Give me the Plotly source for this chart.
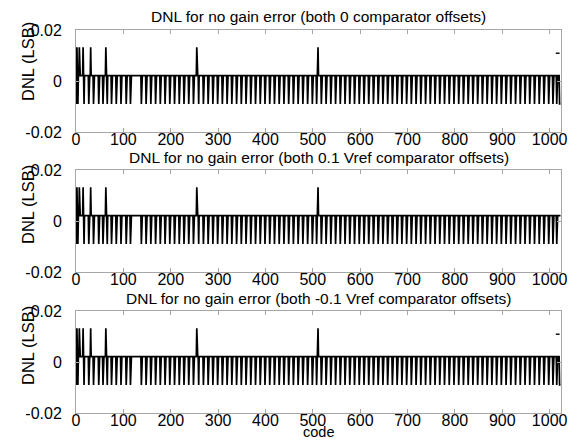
import numpy as np
import plotly.graph_objects as go
from plotly.subplots import make_subplots

titles = [
    "DNL for no gain error (both 0 comparator offsets)",
    "DNL for no gain error (both 0.1 Vref comparator offsets)",
    "DNL for no gain error (both -0.1 Vref comparator offsets)",
]

n_codes = 1024
baseline_dnl = 0.0021
dip_dnl = -0.009
spike_dnl = 0.0132

spike_codes = [0, 2, 7, 15, 31, 63, 255, 511]
start_dip_codes = [1, 3, 4]
dip_codes = [17, 27, 37, 48, 57, 66, 75, 85, 95, 106, 115,
             138, 148, 158, 168, 178, 188, 198, 208, 218, 228, 238, 248,
             259, 269, 279, 289, 299, 309, 319, 329, 339, 349, 359, 369,
             379, 389, 399, 409, 419, 429, 439, 449, 459, 469, 479, 489,
             499, 508, 518, 528, 538, 548, 558, 568, 578, 588, 598, 608,
             618, 628, 638, 648, 658, 668, 678, 688, 698, 708, 718, 728,
             738, 748, 758, 768, 778, 788, 798, 808, 818, 828, 838, 848,
             858, 868, 878, 888, 898, 908, 918, 928, 938, 948, 958, 968,
             978, 988, 998, 1007, 1015]
end_dip_codes = [[1021, 1022, 1023], [], [1021, 1022, 1023]]
end_dash_codes = [1013, 1021]
end_dash_dnl = 0.0109
has_end_dash = [True, False, True]

fig = make_subplots(rows=3, cols=1, vertical_spacing=0.0)

for i in range(3):
    codes = np.arange(n_codes)
    dnl = np.full(n_codes, baseline_dnl)
    dnl[spike_codes] = spike_dnl
    dnl[start_dip_codes] = dip_dnl
    dnl[dip_codes] = dip_dnl
    if end_dip_codes[i]:
        dnl[end_dip_codes[i]] = dip_dnl
    fig.add_trace(go.Scatter(x=codes, y=dnl, mode="lines",
                             line=dict(color="black", width=1.7),
                             showlegend=False, hoverinfo="skip"),
                  row=i + 1, col=1)
    if has_end_dash[i]:
        fig.add_trace(go.Scatter(x=end_dash_codes, y=[end_dash_dnl] * 2, mode="lines",
                                 line=dict(color="black", width=1.4),
                                 showlegend=False, hoverinfo="skip"),
                      row=i + 1, col=1)

# page offset (browser default body margin)
OFF = 8
top, bottom = 30, 413          # plot area in page pixels
left, right = 76, 561
ph = bottom - top
pw = right - left
boxes = [(30, 132), (170, 272), (311, 413)]
font = "Liberation Sans, Arial, Helvetica, sans-serif"
axis_common = dict(showline=True, linecolor="#a6a6a6", linewidth=1, mirror="allticks",
                   ticks="inside", ticklen=4, tickcolor="#a6a6a6", showgrid=False,
                   zeroline=False, tickfont=dict(size=16, color="black", family=font))
for i, (yt, yb) in enumerate(boxes):
    d0 = (bottom - yb) / ph
    d1 = (bottom - yt) / ph
    fig.update_yaxes(range=[-0.02, 0.02], tickvals=[-0.02, 0, 0.02],
                     ticktext=["-0.02", "0", "0.02"], domain=[d0, d1],
                     ticklabelstandoff=10,
                     row=i + 1, col=1, **axis_common)
    fig.update_xaxes(range=[0, 1024], tickvals=list(range(0, 1001, 100)),
                     ticklabelstandoff=-7,
                     row=i + 1, col=1, **axis_common)

W, H = 583 - OFF, 442 - OFF
fig.update_layout(
    width=W, height=H,
    margin=dict(l=left - OFF, r=W - (right - OFF), t=top - OFF, b=H - (bottom - OFF),
                autoexpand=False),
    paper_bgcolor="white", plot_bgcolor="white",
    font=dict(family=font, color="black"),
)

title_y = [16, 157, 298]
ylab_y = [62, 205, 346]
for i in range(3):
    fig.add_annotation(text=titles[i], x=0.5, xref="paper",
                       y=(bottom - title_y[i]) / ph, yref="paper", showarrow=False,
                       xanchor="center", yanchor="middle",
                       font=dict(size=15.5, color="black", family=font))
    fig.add_annotation(text="DNL (LSB)", x=(28 - left) / pw, xref="paper",
                       y=(bottom - ylab_y[i]) / ph, yref="paper", showarrow=False,
                       textangle=-90, xanchor="center", yanchor="middle",
                       font=dict(size=16.5, color="black", family=font))
fig.add_annotation(text="code", x=0.5, xref="paper", y=(bottom - 432) / ph, yref="paper",
                   showarrow=False, xanchor="center", yanchor="middle",
                   font=dict(size=14.5, color="black", family=font))

fig.write_html("out.html")
